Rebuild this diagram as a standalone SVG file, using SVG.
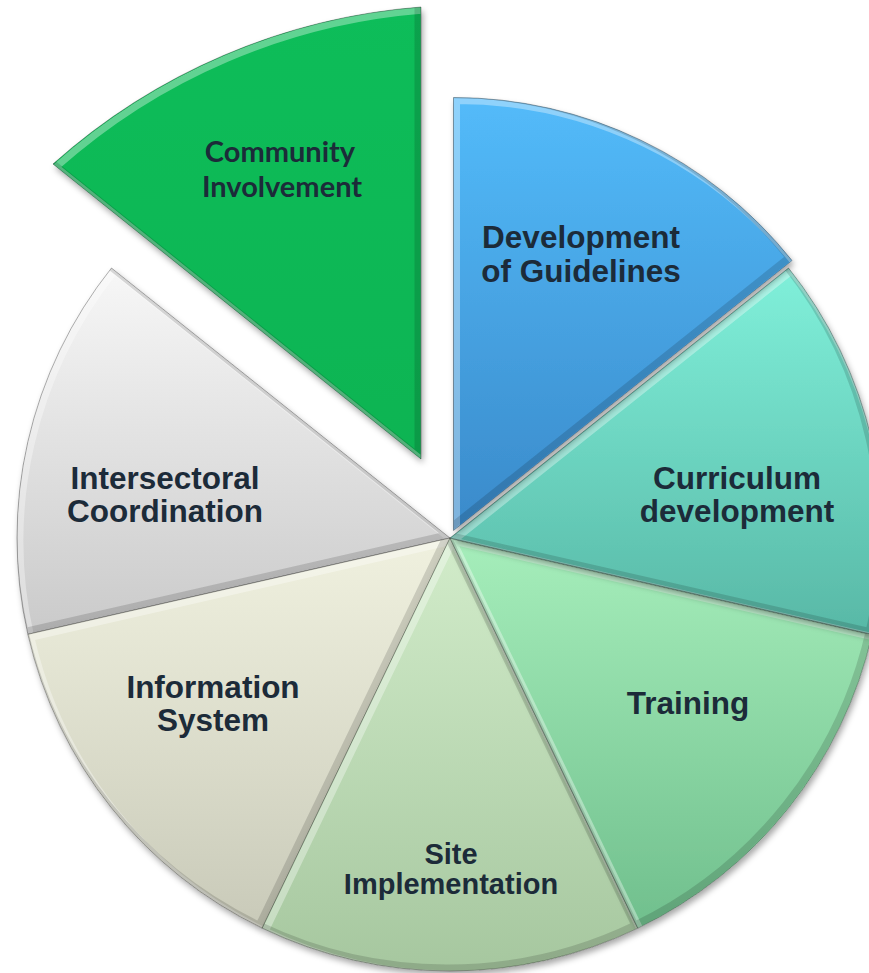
<svg xmlns="http://www.w3.org/2000/svg" xmlns:xlink="http://www.w3.org/1999/xlink" width="869" height="973" viewBox="0 0 869 973">
<style>
.lbl{font-family:"Liberation Sans",Arial,sans-serif;font-weight:bold;font-size:31.5px;fill:#1c2b39;text-anchor:middle}
.lbl2{font-family:Lato,"Open Sans",sans-serif;font-weight:bold;font-size:29px;fill:#1c2b39;text-anchor:middle}
.hl{fill:none;stroke:#ffffff;stroke-opacity:0.35;stroke-width:7}
.dk{fill:none;stroke:#000000;stroke-opacity:0.14;stroke-width:7}
.edge{fill:none;stroke:#000000;stroke-opacity:0.3;stroke-width:1}
</style>
<defs>
<filter id="shadow" x="-10%" y="-10%" width="120%" height="120%">
<feDropShadow dx="2" dy="4" stdDeviation="3" flood-color="#000" flood-opacity="0.35"/>
</filter>
<linearGradient id="g-blue" x1="0" y1="0" x2="0" y2="1"><stop offset="0" stop-color="#53bbfa"/><stop offset="1" stop-color="#3a8aca"/></linearGradient>
<linearGradient id="g-teal" x1="0" y1="0" x2="0" y2="1"><stop offset="0" stop-color="#80f0da"/><stop offset="1" stop-color="#58b8a6"/></linearGradient>
<linearGradient id="g-train" x1="0" y1="0" x2="0" y2="1"><stop offset="0" stop-color="#a6eebb"/><stop offset="1" stop-color="#70bf8d"/></linearGradient>
<linearGradient id="g-site" x1="0" y1="0" x2="0" y2="1"><stop offset="0" stop-color="#d2ecca"/><stop offset="1" stop-color="#a6c79f"/></linearGradient>
<linearGradient id="g-info" x1="0" y1="0" x2="0" y2="1"><stop offset="0" stop-color="#f0f1df"/><stop offset="1" stop-color="#c9cab9"/></linearGradient>
<linearGradient id="g-inter" x1="0" y1="0" x2="0" y2="1"><stop offset="0" stop-color="#f7f7f7"/><stop offset="1" stop-color="#cacaca"/></linearGradient>
<linearGradient id="g-comm" x1="0" y1="0" x2="0" y2="1"><stop offset="0" stop-color="#0cbd5a"/><stop offset="1" stop-color="#07b452"/></linearGradient>
<path id="p-blue" d="M453.5,530.5 L453.5,97.5 A433,433 0 0 1 792.03,260.53 Z"/>
<path id="p-teal" d="M450,538 L788.53,268.03 A433,433 0 0 1 872.14,634.35 Z"/>
<path id="p-train" d="M450,538 L872.14,634.35 A433,433 0 0 1 637.87,928.12 Z"/>
<path id="p-site" d="M450,538 L637.87,928.12 A433,433 0 0 1 262.13,928.12 Z"/>
<path id="p-info" d="M450,538 L262.13,928.12 A433,433 0 0 1 27.86,634.35 Z"/>
<path id="p-inter" d="M450,538 L27.86,634.35 A433,433 0 0 1 111.47,268.03 Z"/>
<path id="p-comm" d="M421,459 L421,7 A624,624 0 0 0 53,164 Z"/>
<clipPath id="c-blue"><use xlink:href="#p-blue"/></clipPath>
<clipPath id="c-teal"><use xlink:href="#p-teal"/></clipPath>
<clipPath id="c-train"><use xlink:href="#p-train"/></clipPath>
<clipPath id="c-site"><use xlink:href="#p-site"/></clipPath>
<clipPath id="c-info"><use xlink:href="#p-info"/></clipPath>
<clipPath id="c-inter"><use xlink:href="#p-inter"/></clipPath>
<clipPath id="c-comm"><use xlink:href="#p-comm"/></clipPath>
</defs>
<rect width="869" height="973" fill="#ffffff"/>

<g id="community">
<use xlink:href="#p-comm" fill="url(#g-comm)" filter="url(#shadow)"/>
<g clip-path="url(#c-comm)"><use xlink:href="#p-comm" class="hl" transform="translate(3,3)"/><use xlink:href="#p-comm" class="dk" transform="translate(-3,-3)"/></g>
<use xlink:href="#p-comm" class="edge"/>
<text class="lbl2" x="280" y="162">Community</text>
<text class="lbl2" x="282" y="197">Involvement</text>
</g>

<g id="intersectoral">
<use xlink:href="#p-inter" fill="url(#g-inter)" filter="url(#shadow)"/>
<g clip-path="url(#c-inter)"><use xlink:href="#p-inter" class="hl" transform="translate(3,3)"/><use xlink:href="#p-inter" class="dk" transform="translate(-3,-3)"/></g>
<use xlink:href="#p-inter" class="edge"/>
<text class="lbl" x="165" y="489">Intersectoral</text>
<text class="lbl" x="165" y="522">Coordination</text>
</g>

<g id="information">
<use xlink:href="#p-info" fill="url(#g-info)" filter="url(#shadow)"/>
<g clip-path="url(#c-info)"><use xlink:href="#p-info" class="hl" transform="translate(3,3)"/><use xlink:href="#p-info" class="dk" transform="translate(-3,-3)"/></g>
<use xlink:href="#p-info" class="edge"/>
<text class="lbl" x="213" y="698">Information</text>
<text class="lbl" x="213" y="731">System</text>
</g>

<g id="site">
<use xlink:href="#p-site" fill="url(#g-site)" filter="url(#shadow)"/>
<g clip-path="url(#c-site)"><use xlink:href="#p-site" class="hl" transform="translate(3,3)"/><use xlink:href="#p-site" class="dk" transform="translate(-3,-3)"/></g>
<use xlink:href="#p-site" class="edge"/>
<text class="lbl" x="451" y="864" style="font-size:29px">Site</text>
<text class="lbl" x="451" y="894" style="font-size:29px">Implementation</text>
</g>

<g id="training">
<use xlink:href="#p-train" fill="url(#g-train)" filter="url(#shadow)"/>
<g clip-path="url(#c-train)"><use xlink:href="#p-train" class="hl" transform="translate(3,3)"/><use xlink:href="#p-train" class="dk" transform="translate(-3,-3)"/></g>
<use xlink:href="#p-train" class="edge"/>
<text class="lbl" x="688" y="714">Training</text>
</g>

<g id="curriculum">
<use xlink:href="#p-teal" fill="url(#g-teal)" filter="url(#shadow)"/>
<g clip-path="url(#c-teal)"><use xlink:href="#p-teal" class="hl" transform="translate(3,3)"/><use xlink:href="#p-teal" class="dk" transform="translate(-3,-3)"/></g>
<use xlink:href="#p-teal" class="edge"/>
<text class="lbl" x="737" y="489">Curriculum</text>
<text class="lbl" x="737" y="522">development</text>
</g>

<g id="guidelines">
<use xlink:href="#p-blue" fill="url(#g-blue)" filter="url(#shadow)"/>
<g clip-path="url(#c-blue)"><use xlink:href="#p-blue" class="hl" transform="translate(3,3)"/><use xlink:href="#p-blue" class="dk" transform="translate(-3,-3)"/></g>
<use xlink:href="#p-blue" class="edge"/>
<text class="lbl" x="581" y="248">Development</text>
<text class="lbl" x="581" y="282">of Guidelines</text>
</g>
</svg>
